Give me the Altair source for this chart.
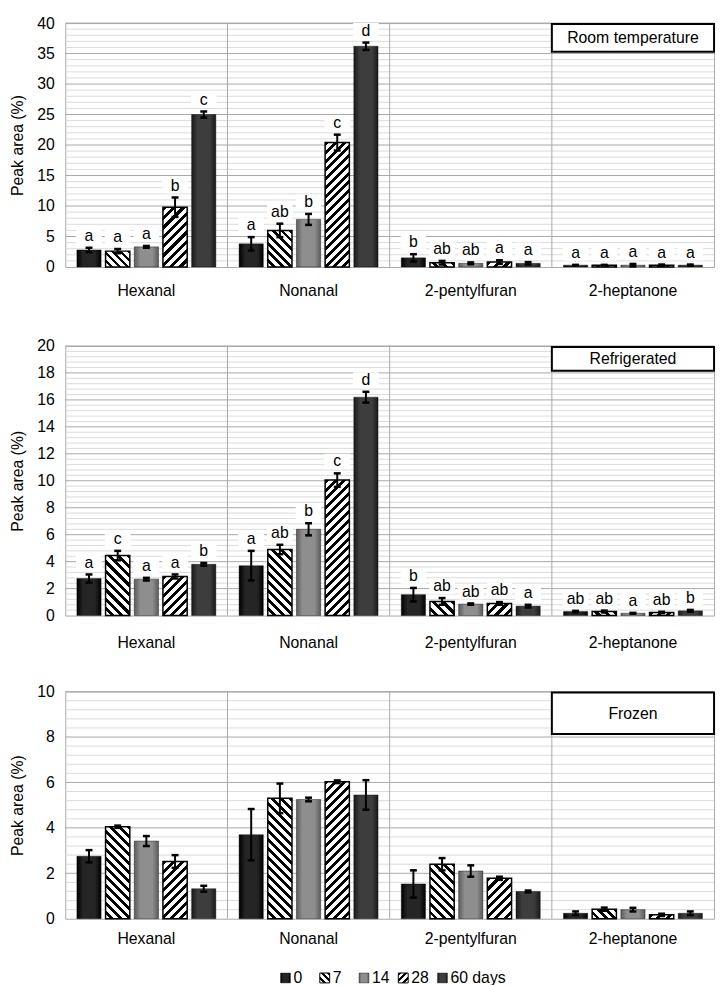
import altair as alt
import pandas as pd
import numpy as np

FONT = "Liberation Sans"

cats = ["Hexanal", "Nonanal", "2-pentylfuran", "2-heptanone"]
days = ["0", "7", "14", "28", "60"]
legend_labels = ["0", "7", "14", "28", "60 days"]

# ---- Room temperature ----
rt_ticks = [0, 5, 10, 15, 20, 25, 30, 35, 40]
rt_hexanal = [2.8, 2.6, 3.3, 9.8, 25.0]
rt_hexanal_err = [0.35, 0.35, 0.15, 1.6, 0.5]
rt_nonanal = [3.8, 6.0, 7.8, 20.4, 36.2]
rt_nonanal_err = [1.1, 1.1, 0.9, 1.3, 0.6]
rt_pentylfuran = [1.5, 0.7, 0.6, 0.8, 0.6]
rt_pentylfuran_err = [0.6, 0.3, 0.15, 0.3, 0.2]
rt_heptanone = [0.3, 0.3, 0.3, 0.3, 0.3]
rt_heptanone_err = [0.05, 0.05, 0.2, 0.1, 0.1]
rt_hexanal_lbl = ["a", "a", "a", "b", "c"]
rt_nonanal_lbl = ["a", "ab", "b", "c", "d"]
rt_pentylfuran_lbl = ["b", "ab", "ab", "a", "a"]
rt_heptanone_lbl = ["a", "a", "a", "a", "a"]

# ---- Refrigerated ----
rf_ticks = [0, 2, 4, 6, 8, 10, 12, 14, 16, 18, 20]
rf_hexanal = [2.75, 4.45, 2.7, 2.9, 3.8]
rf_hexanal_err = [0.3, 0.35, 0.1, 0.15, 0.1]
rf_nonanal = [3.7, 4.9, 6.4, 10.05, 16.2]
rf_nonanal_err = [1.1, 0.35, 0.45, 0.5, 0.4]
rf_pentylfuran = [1.55, 1.05, 0.85, 0.9, 0.7]
rf_pentylfuran_err = [0.5, 0.25, 0.05, 0.1, 0.1]
rf_heptanone = [0.3, 0.3, 0.17, 0.23, 0.35]
rf_heptanone_err = [0.05, 0.07, 0.03, 0.05, 0.07]
rf_hexanal_lbl = ["a", "c", "a", "a", "b"]
rf_nonanal_lbl = ["a", "ab", "b", "c", "d"]
rf_pentylfuran_lbl = ["b", "ab", "ab", "ab", "a"]
rf_heptanone_lbl = ["ab", "ab", "a", "ab", "b"]

# ---- Frozen ----
fz_ticks = [0, 2, 4, 6, 8, 10]
fz_hexanal = [2.75, 4.05, 3.42, 2.52, 1.32]
fz_hexanal_err = [0.27, 0.05, 0.22, 0.28, 0.13]
fz_nonanal = [3.7, 5.3, 5.25, 6.03, 5.45]
fz_nonanal_err = [1.13, 0.65, 0.08, 0.06, 0.65]
fz_pentylfuran = [1.53, 2.4, 2.1, 1.78, 1.2]
fz_pentylfuran_err = [0.6, 0.27, 0.25, 0.07, 0.04]
fz_heptanone = [0.24, 0.42, 0.4, 0.17, 0.24]
fz_heptanone_err = [0.08, 0.07, 0.08, 0.05, 0.08]
fz_lbl = ["", "", "", "", ""]

# ---- layout / style ----
PLOT_W = 657
P_IN, P_OUT = 0.155, 0.405
STEP = PLOT_W / 4 / (5 - P_IN + 2 * P_OUT)
BAR_W = STEP * (1 - P_IN)

SOLID = {
    "0": ["#000000", "#252525", "#252525", "#000000"],
    "14": ["#5c5c5c", "#8e8e8e", "#8e8e8e", "#5c5c5c"],
    "60": ["#1a1a1a", "#3d3d3d", "#3d3d3d", "#1a1a1a"],
}
HATCH = {"7": "\\", "28": "/"}


def solid_grad(cols):
    offs = [0, 0.25, 0.75, 1]
    return {"gradient": "linear", "x1": 0, "y1": 0, "x2": 1, "y2": 0,
            "stops": [{"offset": o, "color": c} for o, c in zip(offs, cols)]}


def hatch_grad(kind, w, h, period=9.0, ink=0.45):
    h = max(h, 0.5)
    n = max(1, int(round((w + h) / period)))
    t = (w + h) / (w * w + h * h)
    if kind == "/":
        x1, y1, x2, y2 = 0, 0, t * w, t * h
    else:
        x1, y1, x2, y2 = 1, 0, 1 - t * w, t * h
    stops = []
    for i in range(n):
        a, b, c = i / n, (i + ink) / n, (i + 1) / n
        stops += [{"offset": round(a, 5), "color": "#000000"},
                  {"offset": round(b, 5), "color": "#000000"},
                  {"offset": round(b, 5), "color": "#ffffff"},
                  {"offset": round(c, 5), "color": "#ffffff"}]
    return {"gradient": "linear", "x1": x1, "y1": y1, "x2": x2, "y2": y2, "stops": stops}


def build_df(means, errs, lbls):
    rows = []
    for c, m, e, l in zip(cats, means, errs, lbls):
        for d, mv, ev, lv in zip(days, m, e, l):
            rows.append({"cat": c, "day": d, "val": mv, "lo": mv - ev, "hi": mv + ev, "lbl": lv})
    return pd.DataFrame(rows)


def panel(title, means, errs, lbls, ticks, minor_step, height, box_h, label_pad):
    df = build_df(means, errs, lbls)
    ymax = ticks[-1]
    ys = alt.Scale(domain=[0, ymax], nice=False, zero=True)
    yaxis = alt.Axis(values=ticks, grid=False, ticks=False, domain=False, labelPadding=11,
                     labelFontSize=16, labelFont=FONT, labelColor="black",
                     titleFontSize=16, titleFont=FONT, titleFontWeight="normal",
                     titleColor="black", titlePadding=12)
    ytitle = "Peak area (%)"
    xs = alt.Scale(domain=cats, paddingInner=0, paddingOuter=0)
    xaxis = alt.Axis(grid=False, ticks=False, domain=False, labelPadding=label_pad, labelAngle=0,
                     labelFontSize=16, labelFont=FONT, labelColor="black")
    X = alt.X("cat:N", scale=xs, axis=xaxis, title=None)
    XO = alt.XOffset("day:N", scale=alt.Scale(domain=days, paddingInner=P_IN, paddingOuter=P_OUT))

    def Y(field):
        return alt.Y(field, scale=ys, axis=yaxis, title=ytitle)

    minor_vals = [v for v in np.arange(0, ymax + 1e-9, minor_step) if min(abs(v - t) for t in ticks) > 1e-6]
    layers = []
    layers.append(alt.Chart(pd.DataFrame({"v": minor_vals})).mark_rule(color="#dadada", strokeWidth=1)
                  .encode(y=Y("v:Q")))
    layers.append(alt.Chart(pd.DataFrame({"v": ticks[1:]})).mark_rule(color="#a8a8a8", strokeWidth=1)
                  .encode(y=Y("v:Q")))
    layers.append(alt.Chart(pd.DataFrame({"cat": cats[1:]})).mark_rule(color="#a8a8a8", strokeWidth=1)
                  .encode(x=alt.X("cat:N", scale=xs, axis=xaxis, title=None, bandPosition=0)))

    dl = df[df["lbl"] != ""]
    if len(dl):
        layers.append(alt.Chart(dl).mark_point(shape="M-1,-0.6H1V0.6H-1Z", filled=True, color="white",
                                               opacity=1, size=676, yOffset=-12, strokeWidth=0)
                      .encode(x=X, xOffset=XO, y=Y("hi:Q")))

    for d, cols in SOLID.items():
        layers.append(alt.Chart(df).transform_filter(alt.datum.day == d)
                      .mark_bar(fill=solid_grad(cols), stroke="#000000", strokeWidth=0.4)
                      .encode(x=X, xOffset=XO, y=Y("val:Q")))
    for d, kind in HATCH.items():
        j = days.index(d)
        for i, c in enumerate(cats):
            hpx = means[i][j] / ymax * height
            layers.append(alt.Chart(df).transform_filter((alt.datum.day == d) & (alt.datum.cat == c))
                          .mark_bar(fill=hatch_grad(kind, BAR_W, hpx), stroke="#000000", strokeWidth=1.5)
                          .encode(x=X, xOffset=XO, y=Y("val:Q")))

    layers.append(alt.Chart(df).mark_rule(color="black", strokeWidth=2)
                  .encode(x=X, xOffset=XO, y=Y("lo:Q"), y2="hi:Q"))
    for f in ["lo:Q", "hi:Q"]:
        layers.append(alt.Chart(df).mark_tick(color="black", thickness=2.5, size=7, opacity=1)
                      .encode(x=X, xOffset=XO, y=Y(f)))
    if len(dl):
        layers.append(alt.Chart(dl).mark_text(dy=-12, fontSize=16, font=FONT, color="black", baseline="middle")
                      .encode(x=X, xOffset=XO, y=Y("hi:Q"), text="lbl:N"))

    bdf = pd.DataFrame({"cat": [cats[-1]], "name": [title]})
    layers.append(alt.Chart(bdf).mark_rect(fill="white", stroke="black", strokeWidth=2)
                  .encode(x=X, y=alt.value(1), y2=alt.value(box_h)))
    layers.append(alt.Chart(bdf).mark_text(fontSize=16, font=FONT, color="black", baseline="middle")
                  .encode(x=X, y=alt.value(box_h / 2 + 1), text="name:N"))

    return alt.layer(*layers).properties(width=PLOT_W, height=height)


p1 = panel("Room temperature",
           [rt_hexanal, rt_nonanal, rt_pentylfuran, rt_heptanone],
           [rt_hexanal_err, rt_nonanal_err, rt_pentylfuran_err, rt_heptanone_err],
           [rt_hexanal_lbl, rt_nonanal_lbl, rt_pentylfuran_lbl, rt_heptanone_lbl],
           rt_ticks, 1, 247, 29, 16)
p2 = panel("Refrigerated",
           [rf_hexanal, rf_nonanal, rf_pentylfuran, rf_heptanone],
           [rf_hexanal_err, rf_nonanal_err, rf_pentylfuran_err, rf_heptanone_err],
           [rf_hexanal_lbl, rf_nonanal_lbl, rf_pentylfuran_lbl, rf_heptanone_lbl],
           rf_ticks, 0.4, 273, 25, 19)
p3 = panel("Frozen",
           [fz_hexanal, fz_nonanal, fz_pentylfuran, fz_heptanone],
           [fz_hexanal_err, fz_nonanal_err, fz_pentylfuran_err, fz_heptanone_err],
           [fz_lbl, fz_lbl, fz_lbl, fz_lbl],
           fz_ticks, 0.4, 230, 43, 12)

# ---- custom legend ----
ldf = pd.DataFrame({"lab": legend_labels, "day": days})
LX = alt.X("lab:N", scale=alt.Scale(type="point", domain=legend_labels, range=[223, 382], padding=0),
           axis=None)
leg_layers = []
for lab, d in zip(legend_labels, days):
    if d in SOLID:
        fill = solid_grad(SOLID[d])
        sw = 0.4
    else:
        fill = hatch_grad(HATCH[d], 10, 10, period=7.0, ink=0.45)
        sw = 1
    leg_layers.append(alt.Chart(ldf).transform_filter(alt.datum.lab == lab)
                      .mark_square(size=100, fill=fill, stroke="#000000", strokeWidth=sw, opacity=1)
                      .encode(x=LX, y=alt.value(10)))
leg_layers.append(alt.Chart(ldf).mark_text(align="left", dx=8, fontSize=16, font=FONT, color="black",
                                           baseline="middle")
                  .encode(x=LX, y=alt.value(10), text="lab:N"))
legend = alt.layer(*leg_layers).properties(width=PLOT_W, height=20,
                                           view=alt.ViewBackground(strokeOpacity=0))

chart = alt.vconcat(
    alt.vconcat(p1, p2, spacing=38),
    alt.vconcat(p3, legend, spacing=21),
    spacing=32,
).properties(
    padding={"top": 0, "left": 0, "right": 2, "bottom": 2}
).configure(font=FONT).configure_view(stroke="#a8a8a8")

chart.save("out.html", embed_options={"renderer": "svg", "actions": False})
